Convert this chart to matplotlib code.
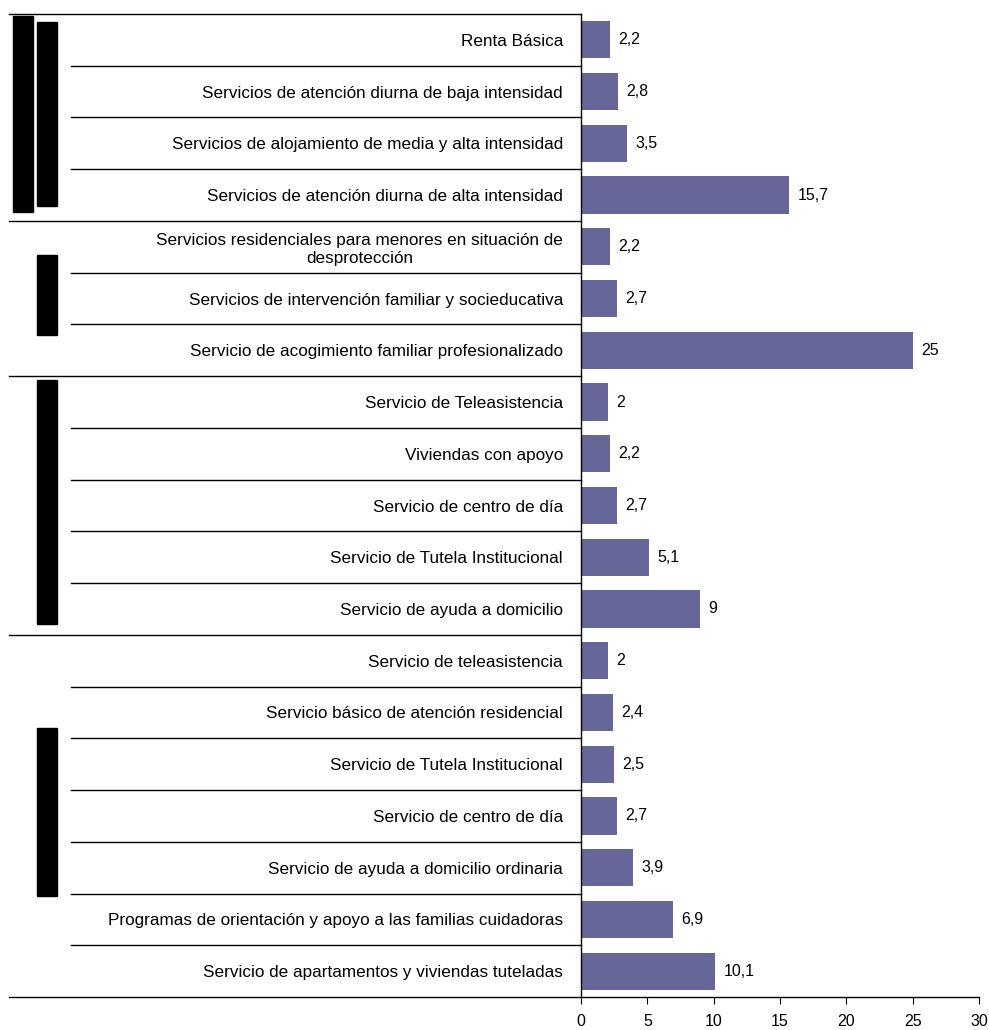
import matplotlib
matplotlib.use("Agg")
import matplotlib.pyplot as plt
from matplotlib.patches import Rectangle
from matplotlib.transforms import blended_transform_factory

plt.rcParams['font.family'] = ['Liberation Sans', 'DejaVu Sans']

labels = [
    "Renta Básica",
    "Servicios de atención diurna de baja intensidad",
    "Servicios de alojamiento de media y alta intensidad",
    "Servicios de atención diurna de alta intensidad",
    "Servicios residenciales para menores en situación de\ndesprotección",
    "Servicios de intervención familiar y socieducativa",
    "Servicio de acogimiento familiar profesionalizado",
    "Servicio de Teleasistencia",
    "Viviendas con apoyo",
    "Servicio de centro de día",
    "Servicio de Tutela Institucional",
    "Servicio de ayuda a domicilio",
    "Servicio de teleasistencia",
    "Servicio básico de atención residencial",
    "Servicio de Tutela Institucional",
    "Servicio de centro de día",
    "Servicio de ayuda a domicilio ordinaria",
    "Programas de orientación y apoyo a las familias cuidadoras",
    "Servicio de apartamentos y viviendas tuteladas",
]
values = [2.2, 2.8, 3.5, 15.7, 2.2, 2.7, 25, 2, 2.2, 2.7, 5.1, 9,
          2, 2.4, 2.5, 2.7, 3.9, 6.9, 10.1]
group_sizes = [4, 3, 5, 7]
xticks = [0, 5, 10, 15, 20, 25, 30]

W, H = 989, 1030
fig = plt.figure(figsize=(W / 100, H / 100), dpi=100)
ax = fig.add_axes([581 / W, 1 - 997 / H, 398 / W, 983 / H])

n = len(values)
ypos = list(range(n))
ax.barh(ypos, values, height=0.72, color="#666699")
ax.set_ylim(n - 0.5, -0.5)
ax.set_xlim(0, 30)

for y, v in zip(ypos, values):
    txt = f"{v:g}".replace(".", ",")
    ax.annotate(txt, (v, y), xytext=(6, 0), textcoords="offset points",
                va="center", ha="left", fontsize=11.5)

ax.set_yticks(ypos)
ax.set_yticklabels(labels, fontsize=12.3, multialignment="center")
ax.tick_params(axis="y", length=0, pad=13)
ax.set_xticks(xticks)
ax.set_xticklabels([str(t) for t in xticks], fontsize=11.5)
ax.tick_params(axis="x", length=5, pad=7, direction="out")

for s in ["top", "right"]:
    ax.spines[s].set_visible(False)
ax.spines["left"].set_linewidth(1)
ax.spines["bottom"].set_linewidth(1)

# table lines on the left
tr = blended_transform_factory(fig.transFigure, ax.transData)
ax_left = 581 / W
group_edges = [0]
for g in group_sizes:
    group_edges.append(group_edges[-1] + g)
for i in range(n + 1):
    yb = i - 0.5
    x0 = 9 / W if i in group_edges else 71 / W
    ax.plot([x0, ax_left], [yb, yb], color="black", lw=1,
            transform=tr, clip_on=False)

# group label boxes (rendered as black blocks)
box_len = [3.55, 1.55, 4.72, 3.25]
for k, g in enumerate(group_sizes):
    c = group_edges[k] + (g - 1) / 2 - 0.07
    L = box_len[k]
    ax.add_patch(Rectangle((37 / W, c - L / 2), 20 / W, L, transform=tr,
                           color="black", clip_on=False))
c0 = (group_sizes[0] - 1) / 2 - 0.07
ax.add_patch(Rectangle((13 / W, c0 - 3.79 / 2), 20 / W, 3.79, transform=tr,
                       color="black", clip_on=False))

fig.savefig("out.png", dpi=100)
